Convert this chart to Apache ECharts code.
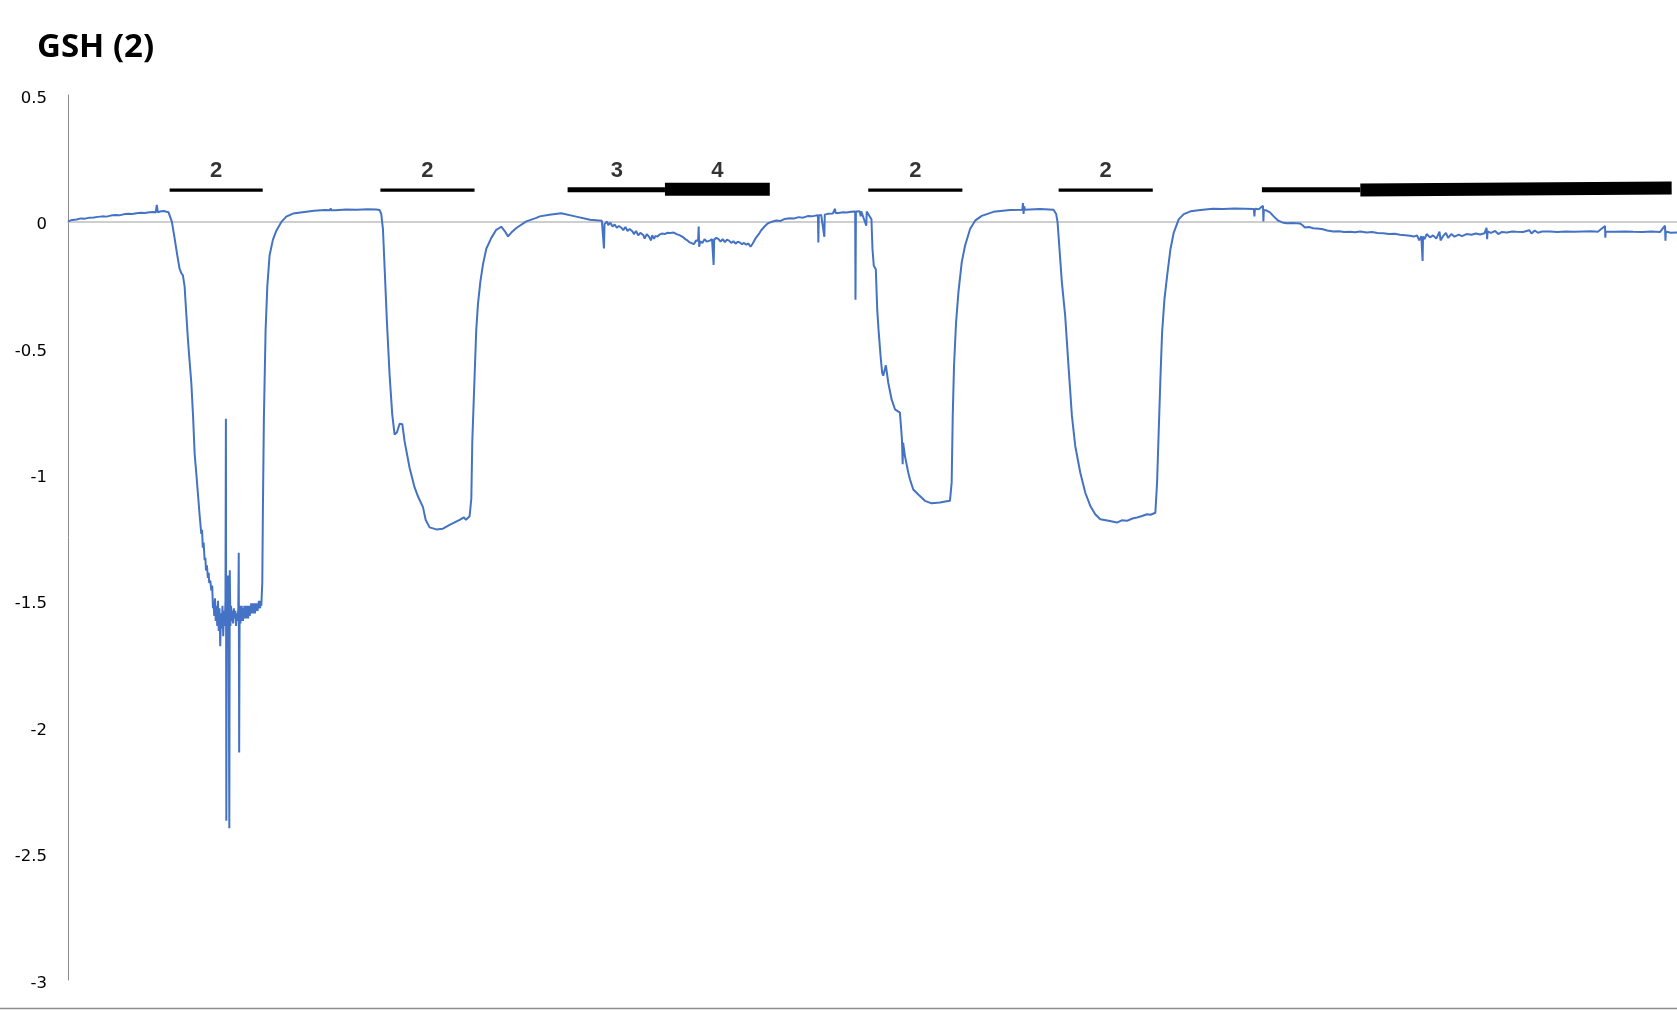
<!DOCTYPE html>
<html>
<head>
<meta charset="utf-8">
<script src="https://cdn.jsdelivr.net/npm/echarts@6/dist/echarts.min.js"></script>
<style>
html,body{margin:0;padding:0;background:#fff;}
#chart{width:1677px;height:1010px;}
</style>
</head>
<body>
<div id="chart"></div>
<script>
// ---- data: [time, signal] pairs ----
const baseline0 = [[0,0.0],[4,0.006],[8,0.008],[12,0.012],[16,0.011],[20,0.015],[24,0.016],[28,0.018],[32,0.02],[36,0.019],[40,0.023],[44,0.025],[48,0.024],[52,0.028],[56,0.03],[60,0.029],[64,0.032],[68,0.034],[72,0.033],[76,0.036],[80,0.037],[82,0.035],[83,0.065],[84,0.036],[87,0.04],[90,0.041],[92,0.038],[94,0.036]];

const trough1 = [[95,0.03],[97,0.0],[99.6,-0.065],[102,-0.13],[104.3,-0.187],[106,-0.205],[107.4,-0.213],[109,-0.257],[110.5,-0.36],[112.1,-0.467],[113.7,-0.555],[115.3,-0.64],[117,-0.78],[118.4,-0.92],[120,-1.0],[121.5,-1.08],[123,-1.16],[124.6,-1.236],[125.3,-1.22],[126,-1.29],[126.8,-1.27],[127.7,-1.34],[128.4,-1.33],[129,-1.38],[129.8,-1.36],[130.8,-1.41],[131.5,-1.39],[132,-1.43],[133,-1.42],[134,-1.46],[134.8,-1.44],[135.5,-1.53],
[136,-1.50],[136.7,-1.56],[137.4,-1.49],[138.1,-1.58],[138.8,-1.52],[139.5,-1.60],[140.2,-1.50],[140.9,-1.62],[141.6,-1.53],[142.3,-1.68],[143,-1.55],[143.7,-1.61],[144.4,-1.52],[145.1,-1.64],[145.8,-1.54],[146.5,-1.60],[147.2,-1.50],[147.6,-0.78],[148,-2.37],[148.4,-1.52],[149,-1.62],[149.6,-1.40],[150.2,-1.66],[150.8,-2.40],[151.2,-1.38],[151.8,-1.60],[152.4,-1.52],[153,-1.58],[153.6,-1.54],[154.3,-1.59],[155,-1.53],[155.7,-1.57],[156.4,-1.54],[157.1,-1.60],[157.8,-1.55],[158.5,-1.58],[159.2,-1.53],[159.6,-1.31],[160,-2.10],[160.4,-1.56],[160.8,-1.52],[161.2,-1.59],[161.6,-1.53],[162,-1.58],[162.4,-1.52],[162.8,-1.57],[163.2,-1.53],[163.6,-1.58],[164,-1.54],[164.4,-1.57],[164.8,-1.52],[165.2,-1.57],[165.6,-1.53],[166,-1.56],[166.4,-1.52],[166.8,-1.57],[167.2,-1.53],[167.6,-1.56],[168,-1.52],[168.4,-1.57],[168.8,-1.53],[169.2,-1.56],[169.6,-1.52],[170,-1.56],[170.4,-1.52],[170.8,-1.55],[171.2,-1.51],[171.6,-1.55],[172,-1.52],[172.4,-1.55],[172.8,-1.51],[173.2,-1.55],[173.6,-1.52],[174,-1.54],[174.4,-1.51],[174.8,-1.55],[175.2,-1.52],[175.6,-1.54],[176,-1.51],[176.4,-1.54],[176.8,-1.51],[177.2,-1.54],[177.6,-1.51],[178,-1.53],[178.4,-1.50],[178.8,-1.53],[179.2,-1.51],[179.6,-1.53],[180,-1.50],[180.7,-1.52],
[181.6,-1.43],[182.2,-1.13],[183.1,-0.78],[184.7,-0.43],[186.3,-0.257],[188.4,-0.135],[191.5,-0.073],[194.6,-0.038],[199.3,-0.003],[204,0.019],[210.3,0.031],[222.7,0.038]];

const plateau1 = [[230,0.042],[240,0.045],[245,0.044],[245.5,0.052],[246,0.044],[250,0.044],[260,0.047],[270,0.046],[280,0.048],[281,0.053],[281.5,0.047],[288,0.047],[291.3,0.045]];

const trough2 = [[292.8,0.03],[294.4,-0.03],[296,-0.187],[298.1,-0.397],[300.6,-0.607],[303.1,-0.764],[305.3,-0.843],[307.5,-0.834],[310,-0.80],[312.5,-0.802],[314.6,-0.869],[319.3,-0.974],[324,-1.052],[327.1,-1.087],[331.8,-1.13],[334.3,-1.18],[338,-1.21],[344.3,-1.218],[350.5,-1.215],[356.7,-1.20],[366.1,-1.18],[370,-1.17],[372,-1.18],[375.4,-1.166],[377,-1.096],[377.9,-0.87],[380.1,-0.607],[381.6,-0.43],[383.2,-0.327],[385.4,-0.24],[387.9,-0.17],[391,-0.108],[395.7,-0.065],[400.3,-0.033],[405,-0.021],[408.2,-0.038],[411.3,-0.059],[414.4,-0.044],[419.1,-0.026],[428.4,0.0],[437.8,0.014],[441,0.02],[450,0.026],[461,0.032],[474,0.02],[488,0.007],[499,0.003]];

const middle34 = [[500.5,0.0],[501,-0.107],[501.5,-0.01],[503,-0.011],[504,0.0],[505,-0.015],[507,-0.005],[509,-0.02],[511,-0.012],[513,-0.025],[515,-0.018],[517.5,-0.026],[519,-0.035],[521,-0.022],[523,-0.038],[525,-0.03],[527.7,-0.04],[529,-0.05],[531,-0.038],[533,-0.055],[535,-0.045],[537.8,-0.054],[539,-0.068],[541,-0.05],[543,-0.06],[545,-0.075],[546,-0.055],[547.8,-0.069],[549,-0.058],[551,-0.06],[553,-0.052],[555,-0.048],[557.8,-0.05],[560,-0.045],[563,-0.046],[566.2,-0.044],[569,-0.05],[572,-0.055],[574.5,-0.061],[577,-0.07],[579,-0.075],[581.2,-0.083],[583,-0.078],[585,-0.09],[587,-0.075],[589,-0.076],[589.5,-0.02],[590,-0.1],[591,-0.078],[593,-0.085],[595,-0.07],[597,-0.08],[600,-0.076],[602,-0.07],[603.5,-0.172],[604,-0.072],[606,-0.065],[607.9,-0.069],[610,-0.08],[612,-0.07],[614,-0.082],[616,-0.072],[617.9,-0.076],[620,-0.085],[622,-0.078],[624,-0.088],[626,-0.08],[627.9,-0.083],[630,-0.09],[632,-0.085],[634,-0.092],[636,-0.087],[638,-0.1],[639.6,-0.09],[641,-0.08],[643,-0.065],[646.2,-0.047],[648,-0.035],[651.3,-0.019],[654,-0.008],[658,-0.001],[662,0.004],[666,0.002],[670,0.01],[674.7,0.013],[679,0.012],[683,0.017],[687,0.015],[691.4,0.021],[695,0.02],[699,0.023],[701,0.024],[701.4,-0.083],[701.8,0.024],[704,0.026],[707,-0.061],[707.4,0.027],[710,0.03],[714.8,0.031],[717,0.05],[717.5,0.033],[720,0.033],[724.8,0.036],[728,0.035],[732,0.038],[735.8,0.039],[736.1,-0.31],[736.5,0.039],[740,0.04],[741,0.02],[741.5,0.04],[743,0.04],[746.2,-0.017],[746.6,0.039],[747.9,0.036]];

const trough3 = [[751,0.009],[752,-0.11],[753.2,-0.175],[755.1,-0.189],[756.4,-0.347],[757.6,-0.426],[759.5,-0.53],[761,-0.598],[762,-0.61],[763,-0.607],[764.5,-0.569],[766.7,-0.637],[769.8,-0.703],[773,-0.743],[777.6,-0.756],[778.6,-0.809],[779.5,-0.86],[780.2,-0.96],[780.6,-0.875],[782.3,-0.927],[785.4,-0.993],[787,-1.02],[790.1,-1.06],[794.8,-1.08],[801,-1.105],[807.3,-1.115],[815.1,-1.112],[820,-1.108],[824.4,-1.105],[826,-1.033],[827,-0.769],[828.2,-0.571],[830.1,-0.40],[832.3,-0.281],[835.4,-0.162],[838.5,-0.096],[843.2,-0.03],[847.9,0.003],[854.1,0.022],[865,0.038],[880.6,0.045],[892,0.046],[892.6,0.073],[893.2,0.03],[893.8,0.06],[894.4,0.046],[908.7,0.049],[921.2,0.046],[923.7,0.029]];

const trough4 = [[925,-0.004],[926.8,-0.11],[929,-0.24],[932.1,-0.373],[935.2,-0.571],[938.4,-0.769],[941.5,-0.888],[946.2,-0.993],[950.9,-1.073],[955.6,-1.125],[960.2,-1.158],[964.9,-1.178],[972.7,-1.184],[980.5,-1.191],[985,-1.182],[989.9,-1.184],[995,-1.175],[999.2,-1.171],[1004,-1.165],[1008.6,-1.158],[1012,-1.16],[1016.4,-1.152],[1018,-1.033],[1019.5,-0.835],[1021.1,-0.624],[1022.7,-0.439],[1024.9,-0.307],[1027.4,-0.215],[1030.5,-0.11],[1033.6,-0.044],[1038.3,0.009],[1043,0.029],[1049.2,0.04],[1058.6,0.045]];

const tail = [[1070,0.05],[1080,0.049],[1090,0.051],[1100,0.05],[1108.5,0.049],[1109,0.02],[1109.5,0.05],[1113,0.048],[1117,0.062],[1117.4,0.0],[1117.8,0.045],[1120,0.044],[1123.5,0.036],[1127,0.02],[1131.3,0.003],[1135,-0.004],[1139.1,-0.007],[1145,-0.006],[1151.5,-0.008],[1154,-0.015],[1156.2,-0.024],[1160,-0.022],[1164,-0.027],[1167.1,-0.028],[1172,-0.03],[1177,-0.036],[1182.7,-0.04],[1188,-0.039],[1193,-0.042],[1198.3,-0.041],[1203,-0.043],[1208,-0.04],[1213.8,-0.044],[1219,-0.042],[1224,-0.046],[1229.4,-0.047],[1235,-0.05],[1240,-0.049],[1245,-0.053],[1250,-0.055],[1254.4,-0.057],[1258,-0.06],[1261,-0.055],[1263,-0.075],[1265,-0.058],[1266.2,-0.156],[1266.6,-0.06],[1268,-0.07],[1270,-0.05],[1273.1,-0.063],[1276,-0.055],[1279,-0.068],[1282,-0.04],[1283,-0.075],[1285.5,-0.057],[1288,-0.045],[1290,-0.065],[1293,-0.05],[1296,-0.06],[1300,-0.052],[1303,-0.058],[1307.3,-0.05],[1312,-0.053],[1316,-0.048],[1320,-0.052],[1324,-0.047],[1326,-0.025],[1326.5,-0.07],[1327,-0.04],[1330,-0.045],[1334,-0.038],[1337,-0.05],[1340,-0.042],[1345,-0.044],[1350,-0.04],[1354,-0.041],[1360,-0.042],[1366,-0.035],[1368,-0.048],[1371,-0.036],[1374,-0.045],[1378,-0.04],[1385,-0.04],[1392,-0.042],[1400,-0.04],[1408,-0.041],[1416,-0.04],[1424,-0.039],[1430,-0.041],[1436.7,-0.018],[1437,-0.064],[1437.4,-0.04],[1445,-0.041],[1455,-0.04],[1463,-0.041],[1472,-0.042],[1480,-0.04],[1488,-0.042],[1492.8,-0.017],[1493.2,-0.076],[1493.6,-0.04],[1498,-0.045],[1504,-0.044]];

// annotation bars: [xStart, xEnd, yStart, yEnd, kind]
const annotationBars = [
  [95, 182, 0.124, 0.124, 'thin'],
  [292, 380, 0.124, 0.124, 'thin'],
  [467, 558, 0.125, 0.125, 'medium'],
  [558, 656, 0.127, 0.127, 'thick'],
  [748, 836, 0.124, 0.124, 'thin'],
  [926, 1014, 0.124, 0.124, 'thin'],
  [1116, 1208, 0.125, 0.125, 'medium'],
  [1208, 1499, 0.124, 0.132, 'thick']
];
// annotation labels: [x, y, text]
const annotationLabels = [
  [138.5, 0.2, '2'],
  [336, 0.2, '2'],
  [513, 0.2, '3'],
  [607, 0.2, '4'],
  [792, 0.2, '2'],
  [970, 0.2, '2']
];
const yTicks = {min: -3, max: 0.5, interval: 0.5};
const xRange = {min: 0, max: 1504};
const titleText = 'GSH (2)';

// ---- build ----
const signal = [].concat(baseline0, trough1, plateau1, trough2, middle34, trough3, trough4, tail);
const widths = {thin: 3.2, medium: 5, thick: 13};

const series = [{
  type: 'line',
  data: signal,
  showSymbol: false,
  symbol: 'none',
  sampling: null,
  lineStyle: {color: '#4472C4', width: 2},
  z: 3,
  animation: false
}];
annotationBars.forEach(b => {
  series.push({
    type: 'line',
    data: [[b[0], b[2]], [b[1], b[3]]],
    symbol: 'none',
    lineStyle: {color: '#000', width: widths[b[4]], cap: 'butt'},
    z: 4,
    silent: true,
    animation: false
  });
});
series.push({
  type: 'scatter',
  data: annotationLabels.map(l => ({value: [l[0], l[1]], name: l[2]})),
  symbolSize: 1,
  itemStyle: {color: 'rgba(0,0,0,0)'},
  label: {
    show: true, position: 'inside', formatter: p => p.name,
    color: '#000', fontSize: 22, fontWeight: 'bold',
    fontFamily: 'Liberation Sans, Arial, sans-serif'
  },
  z: 5,
  silent: true,
  animation: false
});

const chart = echarts.init(document.getElementById('chart'), null, {renderer: 'canvas'});
chart.setOption({
  backgroundColor: '#fff',
  animation: false,
  grid: {left: 68, right: 0, top: 95, bottom: 30, containLabel: false},
  xAxis: {
    type: 'value', min: xRange.min, max: xRange.max,
    axisLine: {show: true, onZero: true, lineStyle: {color: '#bfbfbf', width: 1.6}},
    axisTick: {show: false}, axisLabel: {show: false}, splitLine: {show: false}
  },
  yAxis: {
    type: 'value', min: yTicks.min, max: yTicks.max, interval: yTicks.interval,
    axisLine: {show: true, lineStyle: {color: '#8c8c8c', width: 1}},
    axisTick: {show: false},
    splitLine: {show: false},
    axisLabel: {
      margin: 21, color: '#000', fontSize: 16.5, verticalAlign: 'top', lineHeight: 7,
      fontFamily: 'DejaVu Sans, Verdana, sans-serif'
    }
  },
  graphic: [
    {type: 'text', left: 37, top: 31, style: {text: titleText, fill: '#000', font: 'bold 33px "Open Sans", sans-serif'}},
    {type: 'line', shape: {x1: 0, y1: 1008.5, x2: 1677, y2: 1008.5}, style: {stroke: '#8c8c8c', lineWidth: 1.5}}
  ],
  series: series
});
</script>
</body>
</html>
